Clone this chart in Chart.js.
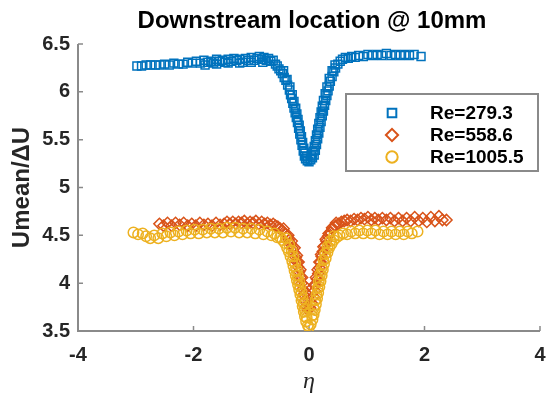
<!DOCTYPE html>
<html>
<head>
<meta charset="utf-8">
<script src="https://cdn.jsdelivr.net/npm/chart.js@4.4.1/dist/chart.umd.min.js"></script>
<style>
  html, body { margin: 0; padding: 0; background: #fff; }
  #wrap { width: 548px; height: 396px; }
</style>
</head>
<body>
<div id="wrap"><canvas id="chart" width="548" height="396"></canvas></div>
<script>
const xTicks = [-4, -2, 0, 2, 4];
const yTicks = [3.5, 4, 4.5, 5, 5.5, 6, 6.5];
const seriesNames = ['Re=279.3', 'Re=558.6', 'Re=1005.5'];
const chartTitle = 'Downstream location @ 10mm';

// [eta, Umean/dU]
const re279 = [
  [-2.98, 6.27], [-2.90, 6.27], [-2.82, 6.28], [-2.74, 6.28], [-2.66, 6.28], [-2.58, 6.28],
  [-2.50, 6.29], [-2.42, 6.28], [-2.34, 6.30], [-2.26, 6.29], [-2.18, 6.29], [-2.10, 6.31],
  [-2.02, 6.30], [-1.95, 6.32], [-1.88, 6.30], [-1.82, 6.33], [-1.76, 6.31], [-1.70, 6.32],
  [-1.65, 6.30], [-1.60, 6.34], [-1.55, 6.32], [-1.50, 6.33], [-1.45, 6.31], [-1.40, 6.34],
  [-1.35, 6.32], [-1.30, 6.35], [-1.25, 6.33], [-1.20, 6.34], [-1.15, 6.31], [-1.10, 6.35],
  [-1.05, 6.33], [-1.00, 6.36], [-0.95, 6.33], [-0.90, 6.35], [-0.86, 6.37], [-0.82, 6.34],
  [-0.78, 6.36], [-0.74, 6.33], [-0.70, 6.35], [-0.66, 6.32], [-0.62, 6.33], [-0.58, 6.29],
  [-1.80, 6.28], [-1.60, 6.29], [-1.40, 6.30], [-1.20, 6.30], [-1.00, 6.31], [-0.80, 6.31],
  [-0.55, 6.27], [-0.52, 6.24], [-0.49, 6.22], [-0.46, 6.19], [-0.43, 6.15], [-0.40, 6.12],
  [-0.37, 6.07], [-0.34, 6.02], [-0.32, 5.97], [-0.30, 5.93], [-0.28, 5.88], [-0.26, 5.83],
  [-0.24, 5.78], [-0.22, 5.73], [-0.20, 5.68], [-0.18, 5.62], [-0.16, 5.56], [-0.14, 5.50],
  [-0.12, 5.44], [-0.10, 5.38], [-0.08, 5.33], [-0.06, 5.30], [-0.03, 5.28], [0.00, 5.27],
  [-0.44, 6.22], [-0.38, 6.13], [-0.33, 6.05], [-0.29, 5.97], [-0.26, 5.90], [-0.23, 5.83],
  [-0.21, 5.77], [-0.19, 5.71], [-0.17, 5.65], [-0.15, 5.59], [-0.13, 5.53], [-0.11, 5.47],
  [-0.09, 5.41], [-0.07, 5.36], [-0.04, 5.32],
  [0.03, 5.29], [0.06, 5.31], [0.09, 5.34], [0.11, 5.39], [0.13, 5.45], [0.15, 5.51],
  [0.17, 5.57], [0.19, 5.63], [0.21, 5.69], [0.23, 5.75], [0.25, 5.80], [0.27, 5.86],
  [0.29, 5.91], [0.31, 5.96], [0.33, 6.01], [0.35, 6.06], [0.37, 6.11], [0.40, 6.16],
  [0.43, 6.21], [0.46, 6.25], [0.50, 6.29], [0.54, 6.32], [0.58, 6.34], [0.63, 6.36],
  [0.04, 5.33], [0.07, 5.38], [0.09, 5.43], [0.11, 5.49], [0.13, 5.55], [0.15, 5.61],
  [0.17, 5.67], [0.19, 5.73], [0.21, 5.79], [0.23, 5.85], [0.25, 5.91], [0.28, 5.98],
  [0.31, 6.05], [0.35, 6.14], [0.40, 6.22], [0.45, 6.28],
  [0.68, 6.35], [0.74, 6.37], [0.80, 6.36], [0.86, 6.38], [0.94, 6.37], [1.02, 6.39],
  [1.10, 6.38], [1.18, 6.39], [1.26, 6.38], [1.34, 6.40], [1.42, 6.38], [1.50, 6.39],
  [1.58, 6.38], [1.66, 6.39], [1.74, 6.38], [1.82, 6.39], [1.94, 6.37]
];

const re558 = [
  [-2.59, 4.62], [-2.52, 4.60], [-2.45, 4.63], [-2.38, 4.60], [-2.31, 4.63], [-2.24, 4.61],
  [-2.17, 4.63], [-2.10, 4.60], [-2.03, 4.62], [-1.96, 4.60], [-1.89, 4.63], [-1.82, 4.61],
  [-1.75, 4.62], [-1.68, 4.60], [-1.61, 4.63], [-1.54, 4.61], [-1.47, 4.62], [-1.42, 4.64],
  [-1.37, 4.62], [-1.32, 4.64], [-1.27, 4.62], [-1.22, 4.64], [-1.17, 4.63], [-1.12, 4.65],
  [-1.07, 4.62], [-1.02, 4.64], [-0.97, 4.63], [-0.92, 4.65], [-0.87, 4.62], [-0.82, 4.64],
  [-0.77, 4.62], [-0.72, 4.63], [-0.67, 4.61], [-0.62, 4.62], [-0.58, 4.60], [-0.54, 4.59],
  [-0.50, 4.57], [-0.46, 4.55], [-0.42, 4.52], [-0.38, 4.49], [-0.35, 4.45], [-0.32, 4.41],
  [-0.29, 4.37], [-0.26, 4.32], [-0.23, 4.27], [-0.21, 4.22], [-0.19, 4.17], [-0.17, 4.12],
  [-0.15, 4.06], [-0.13, 4.00], [-0.11, 3.94], [-0.09, 3.88], [-0.07, 3.82], [-0.05, 3.76],
  [-0.02, 3.72], [0.02, 3.74], [0.05, 3.79], [0.08, 3.86], [0.10, 3.92], [0.12, 3.98],
  [-0.44, 4.57], [-0.36, 4.50], [-0.30, 4.44], [-0.25, 4.37], [-0.21, 4.29], [-0.18, 4.22],
  [-0.15, 4.14], [-0.12, 4.06], [-0.09, 3.98], [-0.06, 3.90],
  [0.06, 3.90], [0.09, 3.98], [0.12, 4.06], [0.15, 4.14], [0.18, 4.22], [0.21, 4.30],
  [0.25, 4.38], [0.29, 4.46], [0.34, 4.52], [0.40, 4.58], [0.47, 4.63],
  [0.14, 4.04], [0.16, 4.10], [0.18, 4.16], [0.20, 4.22], [0.22, 4.28], [0.24, 4.33],
  [0.27, 4.39], [0.30, 4.44], [0.33, 4.49], [0.37, 4.53], [0.41, 4.57], [0.46, 4.60],
  [0.51, 4.62], [0.56, 4.64], [0.61, 4.65], [0.66, 4.66], [0.72, 4.65], [0.78, 4.67],
  [0.84, 4.66], [0.90, 4.68], [0.96, 4.67], [1.02, 4.69], [1.08, 4.66], [1.14, 4.68],
  [1.20, 4.66], [1.27, 4.68], [1.34, 4.66], [1.41, 4.68], [1.48, 4.65], [1.55, 4.68],
  [1.62, 4.65], [1.69, 4.68], [1.76, 4.65], [1.83, 4.69], [1.90, 4.65], [1.97, 4.68],
  [2.04, 4.64], [2.11, 4.69], [2.18, 4.65], [2.25, 4.70], [2.31, 4.66], [2.38, 4.66]
];

const re1005 = [
  [-3.04, 4.53], [-2.96, 4.51], [-2.88, 4.52], [-2.82, 4.49], [-2.75, 4.47], [-2.68, 4.50],
  [-2.61, 4.47], [-2.54, 4.52], [-2.47, 4.49], [-2.40, 4.53], [-2.33, 4.50], [-2.26, 4.54],
  [-2.19, 4.51], [-2.12, 4.55], [-2.05, 4.52], [-1.98, 4.56], [-1.91, 4.52], [-1.84, 4.56],
  [-1.77, 4.53], [-1.70, 4.57], [-1.63, 4.53], [-1.56, 4.57], [-1.49, 4.53], [-1.42, 4.58],
  [-1.35, 4.54], [-1.28, 4.58], [-1.21, 4.53], [-1.14, 4.57], [-1.07, 4.53], [-1.00, 4.57],
  [-0.93, 4.52], [-0.86, 4.56], [-0.79, 4.51], [-0.72, 4.54], [-0.65, 4.50], [-0.60, 4.52],
  [-0.55, 4.48], [-0.50, 4.48], [-0.46, 4.45], [-0.42, 4.42], [-0.38, 4.37], [-0.35, 4.33],
  [-0.32, 4.28], [-0.29, 4.23], [-0.27, 4.18], [-0.25, 4.13], [-0.23, 4.08], [-0.21, 4.03],
  [-0.19, 3.98], [-0.17, 3.93], [-0.15, 3.88], [-0.13, 3.82], [-0.11, 3.76], [-0.09, 3.70],
  [-0.07, 3.65], [-0.05, 3.60], [-0.02, 3.56], [0.00, 3.54], [0.03, 3.57], [0.06, 3.62],
  [-0.40, 4.47], [-0.34, 4.40], [-0.30, 4.34], [-0.27, 4.28], [-0.24, 4.21], [-0.21, 4.14],
  [-0.19, 4.08], [-0.17, 4.02], [-0.15, 3.96], [-0.13, 3.90], [-0.11, 3.84], [-0.09, 3.78],
  [-0.07, 3.72], [-0.04, 3.64],
  [0.05, 3.66], [0.08, 3.74], [0.11, 3.82], [0.13, 3.88], [0.15, 3.95], [0.17, 4.02],
  [0.19, 4.09], [0.22, 4.16], [0.25, 4.24], [0.28, 4.31], [0.32, 4.38], [0.37, 4.44],
  [0.43, 4.49],
  [0.08, 3.67], [0.10, 3.72], [0.12, 3.78], [0.14, 3.84], [0.16, 3.90], [0.18, 3.96],
  [0.20, 4.02], [0.22, 4.08], [0.24, 4.14], [0.26, 4.20], [0.29, 4.26], [0.32, 4.32],
  [0.35, 4.37], [0.39, 4.41], [0.43, 4.45], [0.48, 4.48], [0.53, 4.50], [0.59, 4.52],
  [0.66, 4.51], [0.73, 4.54], [0.80, 4.52], [0.87, 4.55], [0.94, 4.52], [1.01, 4.55],
  [1.08, 4.52], [1.15, 4.55], [1.22, 4.51], [1.29, 4.54], [1.36, 4.51], [1.43, 4.54],
  [1.50, 4.51], [1.57, 4.54], [1.64, 4.51], [1.71, 4.54], [1.78, 4.52], [1.88, 4.54]
];

const colors = ['#0072BD', '#D95319', '#EDB120'];
const styles = ['rect', 'rectRot', 'circle'];
const radii = [5.6, 5.6, 5.2];
const axisColor = '#8a8a8a';
const textColor = '#262626';
const font = 'Liberation Sans, Arial, Helvetica, sans-serif';

const toXY = arr => arr.map(p => ({ x: p[0], y: p[1] }));

const axesPlugin = {
  id: 'matlabAxes',
  beforeDatasetsDraw(chart) {
    const { ctx, chartArea: a, scales: { x, y } } = chart;
    ctx.save();
    // title, centred over the axes like matlab
    ctx.fillStyle = '#000';
    ctx.font = 'bold 24px ' + font;
    ctx.textAlign = 'center';
    ctx.textBaseline = 'middle';
    ctx.fillText(chartTitle, (a.left + a.right) / 2 + 3, 21);

    ctx.strokeStyle = axisColor;
    ctx.lineWidth = 2;
    ctx.beginPath();
    ctx.moveTo(a.left, a.top);
    ctx.lineTo(a.left, a.bottom);
    ctx.lineTo(a.right, a.bottom);
    ctx.stroke();
    ctx.lineWidth = 1.5;
    ctx.beginPath();
    xTicks.forEach(v => {
      const px = x.getPixelForValue(v);
      ctx.moveTo(px, a.bottom);
      ctx.lineTo(px, a.bottom - 5);
    });
    yTicks.forEach(v => {
      const py = y.getPixelForValue(v);
      ctx.moveTo(a.left, py);
      ctx.lineTo(a.left + 5, py);
    });
    ctx.stroke();
    ctx.restore();
  }
};

const legendPlugin = {
  id: 'boxLegend',
  afterDatasetsDraw(chart) {
    const ctx = chart.ctx;
    const box = { left: 346, top: 94, right: 538, bottom: 171 };
    ctx.save();
    ctx.fillStyle = '#fff';
    ctx.fillRect(box.left, box.top, box.right - box.left, box.bottom - box.top);
    ctx.strokeStyle = axisColor;
    ctx.lineWidth = 2;
    ctx.strokeRect(box.left, box.top, box.right - box.left, box.bottom - box.top);
    ctx.font = 'bold 19px ' + font;
    ctx.textBaseline = 'middle';
    ctx.textAlign = 'left';
    seriesNames.forEach((name, i) => {
      const yy = 113 + i * 22;
      ctx.strokeStyle = colors[i];
      ctx.fillStyle = 'rgba(0,0,0,0)';
      Chart.helpers.drawPoint(ctx, { pointStyle: styles[i], radius: radii[i] + 0.5, rotation: 0, borderWidth: 1.5 }, 392, yy);
      ctx.fillStyle = '#000';
      ctx.fillText(name, 430, yy + 1);
    });
    ctx.restore();
  }
};

new Chart(document.getElementById('chart'), {
  type: 'scatter',
  data: {
    datasets: [re279, re558, re1005].map((d, i) => ({
      label: seriesNames[i],
      data: toXY(d),
      pointStyle: styles[i],
      pointRadius: radii[i],
      pointBorderWidth: 1.5,
      borderColor: colors[i],
      backgroundColor: 'rgba(0,0,0,0)',
      order: 3 - i
    }))
  },
  options: {
    responsive: false,
    animation: false,
    events: [],
    layout: { padding: { left: 0, right: 8, top: 44, bottom: 0 } },
    plugins: {
      legend: { display: false },
      tooltip: { enabled: false },
      title: { display: false }
    },
    scales: {
      x: {
        type: 'linear',
        min: -4,
        max: 4,
        afterBuildTicks: s => { s.ticks = xTicks.map(v => ({ value: v })); },
        afterFit: s => { s.height = 65; s.paddingLeft = 0; s.paddingRight = 0; },
        grid: { display: false, drawTicks: false },
        border: { display: false },
        ticks: {
          color: textColor,
          padding: 12,
          maxRotation: 0,
          font: { family: font, size: 20, weight: 'bold' },
          callback: v => String(v)
        },
        title: {
          display: true,
          text: 'η',
          color: textColor,
          font: { family: 'Liberation Serif, Times New Roman, serif', size: 24, style: 'italic' },
          padding: { top: 0, bottom: 0 }
        }
      },
      y: {
        type: 'linear',
        min: 3.5,
        max: 6.5,
        afterBuildTicks: s => { s.ticks = yTicks.map(v => ({ value: v })); },
        afterFit: s => { s.width = 78; },
        grid: { display: false, drawTicks: false },
        border: { display: false },
        ticks: {
          color: textColor,
          padding: 8,
          font: { family: font, size: 20, weight: 'bold' },
          callback: v => String(v)
        },
        title: {
          display: true,
          text: 'Umean/ΔU',
          color: textColor,
          font: { family: font, size: 24, weight: 'bold' },
          padding: { top: 8, bottom: 0 }
        }
      }
    }
  },
  plugins: [axesPlugin, legendPlugin]
});
</script>
</body>
</html>
